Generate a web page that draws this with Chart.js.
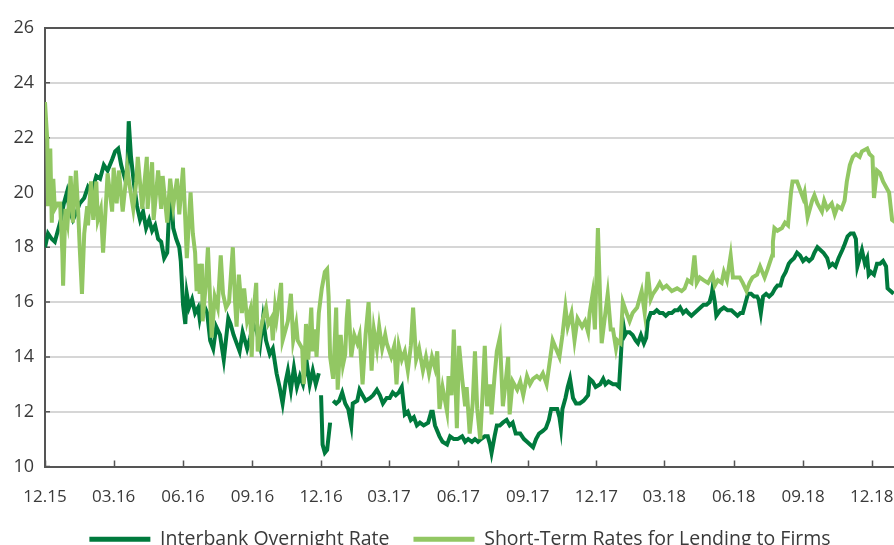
<!DOCTYPE html>
<html>
<head>
<meta charset="utf-8">
<script src="https://cdn.jsdelivr.net/npm/chart.js@4/dist/chart.umd.min.js"></script>
<style>
  html, body { margin: 0; padding: 0; overflow: hidden; background: #fff; }
  #wrap { position: absolute; left: 0; top: 0; width: 920px; height: 559px; }
</style>
</head>
<body>
<div id="wrap"><canvas id="rates"></canvas></div>
<script>
/* interbank vs. lending rates, days counted from 1 Dec 2015 */
const tickDays = [0, 91, 183, 275, 366, 456, 548, 640, 731, 821, 913, 1005, 1096];
const tickLabels = ['12.15', '03.16', '06.16', '09.16', '12.16', '03.17', '06.17', '09.17', '12.17', '03.18', '06.18', '09.18', '12.18'];

const interbankDays = [0, 4, 9, 13, 17, 21, 25, 29, 33, 37, 42, 46, 52, 57, 62, 68, 73, 78, 83, 89, 93, 97, 101, 106, 109, 111, 114, 118, 122, 126, 130, 134, 138, 142, 146, 150, 154, 158, 162, 164, 167, 170, 174, 178, 180, 183, 186, 188, 191, 195, 199, 203, 205, 209, 215, 219, 223, 227, 232, 237, 243, 246, 250, 254, 258, 262, 268, 272, 276, 281, 285, 289, 293, 298, 302, 307, 311, 315, 319, 322, 326, 330, 334, 338, 342, 347, 351, 355, 359, 363, 365, 366, 368, 371, 374, 378, 380, 382, 386, 390, 394, 398, 402, 406, 408, 414, 417, 421, 425, 431, 435, 440, 444, 448, 453, 457, 461, 465, 469, 473, 477, 481, 485, 489, 493, 497, 502, 508, 512, 514, 517, 520, 523, 527, 533, 537, 542, 547, 553, 557, 561, 566, 570, 574, 578, 583, 587, 590, 592, 596, 599, 603, 607, 612, 616, 620, 624, 630, 635, 639, 643, 647, 651, 655, 660, 664, 668, 671, 675, 679, 682, 684, 686, 690, 693, 696, 700, 704, 709, 714, 720, 722, 726, 730, 736, 740, 743, 747, 753, 757, 761, 763, 766, 769, 771, 775, 779, 783, 786, 790, 794, 797, 799, 803, 807, 811, 815, 819, 823, 827, 831, 835, 839, 842, 846, 850, 853, 857, 861, 865, 869, 873, 877, 881, 884, 885, 888, 890, 895, 900, 905, 910, 914, 918, 922, 925, 928, 932, 936, 940, 944, 946, 949, 952, 956, 960, 964, 968, 971, 975, 978, 982, 986, 989, 993, 997, 1001, 1005, 1009, 1013, 1017, 1020, 1024, 1028, 1032, 1037, 1040, 1044, 1048, 1052, 1057, 1060, 1064, 1068, 1072, 1075, 1077, 1080, 1083, 1087, 1090, 1092, 1095, 1099, 1103, 1107, 1111, 1115, 1117, 1121, 1125];
const interbankRate = [18.0, 18.5, 18.3, 18.2, 18.6, 19.0, 19.6, 20.0, 19.3, 19.0, 19.3, 19.6, 19.8, 20.2, 20.0, 20.6, 20.5, 21.0, 20.8, 21.2, 21.5, 21.6, 21.0, 20.5, 20.6, 22.6, 21.3, 20.3, 19.5, 19.0, 19.3, 18.7, 19.0, 18.6, 18.8, 18.3, 18.2, 17.6, 17.8, 19.0, 20.2, 18.7, 18.3, 18.0, 17.5, 15.9, 15.2, 16.3, 15.8, 16.1, 15.6, 15.8, 15.4, 16.0, 15.6, 14.6, 14.3, 15.1, 14.8, 13.9, 15.4, 15.2, 14.8, 14.5, 14.2, 14.9, 14.3, 14.7, 15.2, 14.9, 14.4, 15.4, 14.6, 14.1, 14.3, 13.4, 12.9, 12.3, 13.1, 13.5, 12.8, 13.6, 12.9, 13.3, 13.0, 13.8, 13.0, 13.5, 13.0, 13.4, null, 12.6, 10.8, 10.5, 10.6, 11.6, null, 12.4, 12.3, 12.4, 12.7, 12.3, 12.1, 11.5, 12.3, 12.4, 12.8, 12.6, 12.4, 12.5, 12.6, 12.8, 12.6, 12.3, 12.5, 12.5, 12.7, 12.6, 12.7, 12.9, 11.9, 12.0, 11.7, 11.8, 11.5, 11.6, 11.5, 11.6, 12.0, 12.0, 11.5, 11.3, 11.1, 10.9, 10.8, 11.1, 11.0, 11.0, 11.1, 10.9, 11.0, 10.9, 11.0, 10.9, 11.0, 11.1, 11.1, 10.8, 10.5, 11.1, 11.5, 11.5, 11.6, 11.7, 11.5, 11.6, 11.2, 11.2, 11.0, 10.9, 10.8, 10.7, 11.0, 11.2, 11.3, 11.4, 11.7, 12.1, 12.1, 12.1, 11.8, 11.4, 12.1, 12.5, 12.9, 13.2, 12.5, 12.3, 12.3, 12.4, 12.6, 13.2, 13.1, 12.9, 13.0, 13.2, 13.0, 13.1, 13.0, 13.0, 12.9, 13.8, 15.3, 14.8, 14.9, 14.9, 14.8, 14.6, 14.5, 14.8, 14.5, 14.7, 15.3, 15.6, 15.6, 15.7, 15.6, 15.6, 15.5, 15.6, 15.6, 15.7, 15.7, 15.8, 15.6, 15.7, 15.6, 15.5, 15.6, 15.7, 15.8, 15.9, 15.9, 16.0, 16.3, 16.5, 16.0, 15.5, 15.7, 15.8, 15.7, 15.7, 15.6, 15.5, 15.6, 15.6, 15.9, 16.3, 16.3, 16.2, 16.2, 16.1, 15.6, 16.2, 16.3, 16.2, 16.3, 16.5, 16.6, 16.6, 16.9, 17.1, 17.4, 17.5, 17.6, 17.8, 17.7, 17.5, 17.6, 17.5, 17.6, 17.8, 18.0, 17.9, 17.8, 17.6, 17.3, 17.4, 17.3, 17.6, 17.9, 18.1, 18.4, 18.5, 18.5, 18.3, 17.3, 17.6, 17.9, 17.4, 17.6, 17.0, 17.1, 17.0, 17.4, 17.4, 17.5, 17.3, 16.5, 16.4, 16.3];

const lendingDays = [0, 3, 4, 7, 9, 11, 13, 17, 20, 23, 24, 27, 30, 34, 37, 41, 44, 46, 49, 52, 56, 57, 61, 64, 68, 70, 74, 77, 81, 83, 89, 91, 95, 98, 103, 109, 113, 117, 121, 123, 129, 131, 135, 136, 142, 144, 150, 154, 156, 162, 166, 170, 175, 178, 183, 186, 188, 193, 196, 199, 201, 204, 205, 208, 209, 213, 216, 219, 221, 225, 229, 233, 236, 240, 244, 249, 252, 254, 257, 261, 264, 268, 272, 274, 276, 280, 282, 286, 289, 293, 296, 300, 302, 305, 307, 313, 315, 319, 322, 326, 329, 333, 335, 341, 343, 346, 349, 353, 355, 358, 360, 363, 367, 371, 374, 376, 378, 382, 386, 388, 392, 395, 398, 400, 402, 406, 410, 414, 417, 421, 425, 429, 433, 436, 440, 443, 447, 451, 453, 459, 463, 466, 469, 473, 477, 481, 485, 488, 492, 496, 501, 505, 509, 513, 517, 520, 523, 527, 533, 535, 539, 542, 546, 549, 553, 557, 559, 563, 567, 570, 573, 577, 580, 583, 586, 590, 592, 596, 599, 603, 607, 610, 614, 616, 620, 626, 630, 634, 639, 643, 647, 652, 656, 660, 665, 669, 673, 679, 682, 686, 690, 693, 698, 702, 706, 712, 716, 720, 722, 726, 729, 733, 737, 738, 742, 746, 750, 753, 757, 759, 763, 766, 771, 775, 779, 785, 789, 791, 795, 799, 803, 806, 811, 815, 819, 824, 831, 838, 844, 848, 852, 857, 861, 864, 868, 873, 879, 885, 888, 892, 897, 900, 904, 909, 912, 917, 921, 925, 930, 934, 938, 944, 948, 954, 958, 964, 965, 967, 971, 977, 981, 985, 989, 991, 997, 1001, 1005, 1007, 1011, 1017, 1020, 1024, 1030, 1033, 1037, 1043, 1047, 1051, 1056, 1060, 1063, 1067, 1071, 1075, 1080, 1083, 1090, 1093, 1097, 1099, 1103, 1107, 1111, 1117, 1119, 1123, 1128];
const lendingRate = [23.3, 21.9, 19.5, 21.6, 18.9, 20.5, 19.4, 19.6, 19.6, 17.8, 16.6, 19.4, 18.9, 20.6, 18.9, 20.8, 19.3, 18.0, 16.3, 18.5, 19.5, 18.8, 20.4, 19.0, 20.4, 19.0, 19.4, 17.8, 19.7, 20.7, 19.3, 20.9, 19.6, 20.8, 19.3, 20.9, 20.1, 19.4, 20.4, 21.3, 19.4, 20.1, 21.3, 19.4, 21.1, 19.0, 20.8, 19.4, 20.6, 18.9, 20.5, 19.5, 20.5, 19.2, 20.9, 19.0, 17.6, 20.0, 18.5, 17.8, 16.4, 17.4, 16.3, 17.4, 15.3, 16.6, 18.0, 16.0, 14.7, 16.2, 15.8, 17.7, 16.3, 15.8, 16.0, 18.0, 16.0, 15.1, 17.0, 15.6, 16.5, 15.3, 15.7, 14.0, 15.5, 16.7, 14.2, 15.0, 15.4, 15.8, 15.2, 15.4, 14.6, 15.8, 15.4, 16.7, 14.6, 15.0, 15.3, 16.3, 14.6, 15.2, 14.6, 14.3, 13.0, 15.2, 13.9, 15.8, 14.2, 15.0, 14.0, 15.6, 16.5, 17.1, 17.2, 16.2, 14.0, 13.2, 15.8, 12.8, 14.8, 13.7, 14.1, 15.4, 16.1, 14.0, 14.8, 14.5, 14.8, 13.0, 14.8, 16.0, 13.5, 15.0, 14.3, 15.1, 14.3, 14.8, 14.5, 14.0, 14.4, 13.0, 14.4, 13.9, 14.2, 13.5, 14.4, 15.8, 13.9, 14.3, 13.5, 14.0, 13.4, 14.0, 13.6, 14.2, 12.1, 12.9, 12.0, 13.3, 12.6, 15.0, 11.4, 14.4, 13.2, 12.2, 12.9, 11.2, 12.3, 14.2, 12.1, 11.0, 12.6, 14.4, 12.2, 13.0, 11.9, 13.3, 14.2, 14.7, 12.2, 12.9, 14.0, 11.9, 13.1, 12.8, 13.1, 12.6, 13.3, 13.0, 13.2, 13.3, 13.2, 13.4, 13.0, 13.8, 14.6, 14.2, 14.0, 14.8, 15.8, 15.1, 15.6, 14.6, 15.4, 15.1, 15.3, 14.9, 15.6, 16.3, 15.0, 18.7, 15.2, 14.5, 15.4, 16.3, 15.0, 15.0, 14.3, 14.6, 14.5, 16.0, 15.6, 15.3, 15.6, 15.8, 16.2, 16.4, 15.6, 17.1, 16.1, 16.3, 16.5, 16.7, 16.5, 16.6, 16.4, 16.5, 16.4, 16.5, 16.8, 16.7, 17.7, 16.7, 16.9, 16.8, 16.7, 17.0, 16.6, 16.8, 16.7, 17.1, 16.8, 17.7, 16.9, 16.9, 16.9, 16.7, 16.4, 16.7, 16.9, 17.0, 17.3, 16.9, 17.2, 17.7, 18.2, 18.7, 18.6, 18.7, 18.9, 18.8, 20.0, 20.4, 20.4, 20.1, 19.8, 20.0, 19.1, 19.7, 19.9, 19.6, 19.3, 19.7, 19.4, 19.6, 19.2, 19.5, 19.4, 19.7, 20.4, 21.0, 21.3, 21.4, 21.3, 21.5, 21.6, 21.4, 21.3, 19.8, 20.8, 20.7, 20.4, 20.1, 20.0, 19.0, 18.9];

const darkGreen = '#007a3d';
const lightGreen = '#92c763';
const axisColor = '#555555';
const gridColor = '#d6d6d6';
const textColor = '#3a3a3a';

function pairs(xs, ys) {
  return xs.map((d, i) => ({ x: d, y: ys[i] }));
}

// short tick marks pointing into the plot area
const innerTicks = {
  id: 'innerTicks',
  beforeDatasetsDraw(chart) {
    const { ctx, chartArea, scales } = chart;
    ctx.save();
    ctx.strokeStyle = axisColor;
    ctx.lineWidth = 1.5;
    ctx.beginPath();
    tickDays.forEach(d => {
      const px = Math.round(scales.x.getPixelForValue(d)) + 0.5;
      ctx.moveTo(px, chartArea.bottom);
      ctx.lineTo(px, chartArea.bottom - 6);
    });
    scales.y.ticks.forEach(t => {
      const py = scales.y.getPixelForValue(t.value);
      ctx.moveTo(chartArea.left, py);
      ctx.lineTo(chartArea.left + 5, py);
    });
    ctx.stroke();
    ctx.restore();
  }
};

const ctx = document.getElementById('rates').getContext('2d');
new Chart(ctx, {
  type: 'line',
  data: {
    datasets: [
      {
        label: 'Interbank Overnight Rate',
        data: pairs(interbankDays, interbankRate),
        borderColor: darkGreen, backgroundColor: darkGreen,
        borderWidth: 4, pointRadius: 0, tension: 0, spanGaps: false, order: 1
      },
      {
        label: 'Short-Term Rates for Lending to Firms',
        data: pairs(lendingDays, lendingRate),
        borderColor: lightGreen, backgroundColor: lightGreen,
        borderWidth: 4, pointRadius: 0, tension: 0, order: 0
      }
    ]
  },
  options: {
    responsive: true,
    maintainAspectRatio: false,
    animation: false,
    layout: { padding: { top: 28, left: 0, right: 0, bottom: 0 } },
    plugins: {
      tooltip: { enabled: false },
      legend: {
        position: 'bottom',
        labels: {
          boxWidth: 61, boxHeight: 5, padding: 24,
          color: textColor,
          font: { family: 'Open Sans', size: 19.5 },
          sort: (a, b) => a.datasetIndex - b.datasetIndex,
          generateLabels: chart => Chart.defaults.plugins.legend.labels.generateLabels(chart)
            .map(item => Object.assign(item, { lineWidth: 0 }))
        }
      }
    },
    scales: {
      x: {
        type: 'linear', min: 0, max: 1160,
        afterBuildTicks: s => { s.ticks = tickDays.map(v => ({ value: v })); },
        afterFit: s => { s.height = 39; },
        grid: { display: false, drawTicks: false },
        border: { color: axisColor, width: 2 },
        ticks: {
          autoSkip: false, maxRotation: 0, padding: 20,
          color: textColor, font: { family: 'Open Sans', size: 17 },
          callback: v => tickLabels[tickDays.indexOf(v)]
        }
      },
      y: {
        min: 10, max: 26,
        afterFit: s => { s.width = 45; },
        grid: {
          color: c => (c.tick && c.tick.value === 26 ? axisColor : gridColor),
          lineWidth: 2, drawTicks: false
        },
        border: { color: axisColor, width: 2 },
        ticks: {
          stepSize: 2, padding: 11,
          color: textColor, font: { family: 'Open Sans', size: 18 }
        }
      }
    }
  },
  plugins: [innerTicks]
});
</script>
</body>
</html>
